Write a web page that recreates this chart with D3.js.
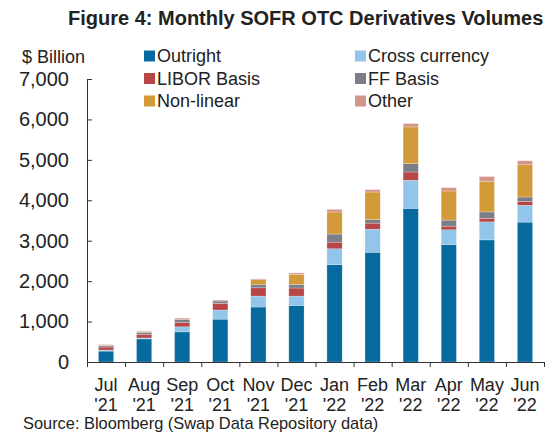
<!DOCTYPE html>
<html>
<head>
<meta charset="utf-8">
<script src="https://cdn.jsdelivr.net/npm/d3@7"></script>
<style>
  body { margin: 0; background: #fff; }
  text { font-family: "Liberation Sans", Arial, sans-serif; fill: #222; }
</style>
</head>
<body>
<div id="vis1"></div>
<script>
// data ($ billion)
const MONTHS = ["Jul", "Aug", "Sep", "Oct", "Nov", "Dec", "Jan", "Feb", "Mar", "Apr", "May", "Jun"];
const YEARS = ["'21", "'21", "'21", "'21", "'21", "'21", "'22", "'22", "'22", "'22", "'22", "'22"];
const OUTRIGHT = [270, 570, 745, 1060, 1360, 1400, 2405, 2715, 3800, 2905, 3020, 3460];
const CROSS_CURRENCY = [25, 25, 125, 225, 270, 230, 395, 570, 695, 365, 445, 415];
const LIBOR_BASIS = [75, 90, 108, 165, 205, 200, 165, 150, 205, 90, 90, 100];
const FF_BASIS = [30, 40, 75, 58, 75, 90, 200, 85, 205, 150, 157, 107];
const NON_LINEAR = [5, 0, 0, 0, 125, 250, 545, 685, 910, 720, 760, 795];
const OTHER = [25, 35, 33, 25, 20, 33, 66, 58, 83, 83, 116, 100];
const Y_TICKS = [0, 1000, 2000, 3000, 4000, 5000, 6000, 7000];

const SERIES = [
  {name: "Outright", values: OUTRIGHT, color: "#076a9e"},
  {name: "Cross currency", values: CROSS_CURRENCY, color: "#92c5ea"},
  {name: "LIBOR Basis", values: LIBOR_BASIS, color: "#b84646"},
  {name: "FF Basis", values: FF_BASIS, color: "#7b7e88"},
  {name: "Non-linear", values: NON_LINEAR, color: "#d39a3a"},
  {name: "Other", values: OTHER, color: "#d4958b"}
];

// frame
const FRAME_HEIGHT = 436;
const FRAME_WIDTH = 552;
const MARGINS = {left: 87, right: 8, top: 79, bottom: 74};

const VIS_HEIGHT = FRAME_HEIGHT - MARGINS.top - MARGINS.bottom;
const VIS_WIDTH = FRAME_WIDTH - MARGINS.left - MARGINS.right;

const FRAME1 = d3.select("#vis1")
                  .append("svg")
                    .attr("height", FRAME_HEIGHT)
                    .attr("width", FRAME_WIDTH);

// build rows for the stack
const rows = MONTHS.map((m, i) => {
  let row = {month: m + " " + YEARS[i]};
  SERIES.forEach((s) => { row[s.name] = s.values[i]; });
  return row;
});
const stacked = d3.stack().keys(SERIES.map((s) => s.name))(rows);

// scales
const X_SCALE = d3.scaleBand()
                  .domain(rows.map((d) => d.month))
                  .range([0, VIS_WIDTH])
                  .paddingInner(0.6)
                  .paddingOuter(0.3);

const Y_SCALE = d3.scaleLinear()
                  .domain([0, 7000])
                  .range([VIS_HEIGHT, 0]);

const plot = FRAME1.append("g")
                   .attr("transform", "translate(" + MARGINS.left + "," + MARGINS.top + ")");

// bars
plot.append("g")
    .selectAll("g")
    .data(stacked)
    .enter()
    .append("g")
      .attr("fill", (d, i) => SERIES[i].color)
    .selectAll("rect")
    .data((d) => d)
    .enter()
    .append("rect")
      .attr("x", (d) => X_SCALE(d.data.month))
      .attr("y", (d) => Y_SCALE(d[1]))
      .attr("height", (d) => Y_SCALE(d[0]) - Y_SCALE(d[1]))
      .attr("width", X_SCALE.bandwidth())
      .attr("stroke", "rgba(255,255,255,0.5)")
      .attr("stroke-width", 0.5);

// y axis, ticks pointing inward
const yAxis = plot.append("g")
    .call(d3.axisLeft(Y_SCALE).tickValues(Y_TICKS).tickSize(-5).tickSizeOuter(0)
            .tickPadding(18).tickFormat(d3.format(",")));
yAxis.selectAll("text").attr("font-size", "20px");
yAxis.selectAll("line, path").attr("stroke", "#333");

// x axis, ticks at the category boundaries
const X_EDGES = d3.scaleLinear().domain([0, MONTHS.length]).range([0, VIS_WIDTH]);
const xAxis = plot.append("g")
    .attr("transform", "translate(0," + VIS_HEIGHT + ")")
    .call(d3.axisBottom(X_EDGES).ticks(MONTHS.length).tickSize(5).tickSizeOuter(0).tickFormat(""));
xAxis.selectAll("line, path").attr("stroke", "#333");

// two line month labels
const labels = plot.append("g")
    .selectAll("text")
    .data(rows)
    .enter()
    .append("text")
      .attr("text-anchor", "middle")
      .attr("font-size", "18px")
      .attr("transform", (d) => "translate(" + (X_SCALE(d.month) + X_SCALE.bandwidth() / 2) + "," + (VIS_HEIGHT + 29) + ")");
labels.append("tspan").attr("x", 0).attr("y", 0).text((d, i) => MONTHS[i]);
labels.append("tspan").attr("x", 0).attr("y", 20).text((d, i) => YEARS[i]);

// title, unit, source
FRAME1.append("text")
      .attr("x", 68).attr("y", 25)
      .attr("font-size", "20px").attr("font-weight", "bold")
      .text("Figure 4: Monthly SOFR OTC Derivatives Volumes");

FRAME1.append("text")
      .attr("x", 22).attr("y", 63)
      .attr("font-size", "18px")
      .text("$ Billion");

FRAME1.append("text")
      .attr("x", 23).attr("y", 429)
      .attr("font-size", "16.4px")
      .text("Source: Bloomberg (Swap Data Repository data)");

// legend in two columns
const legend = FRAME1.append("g")
    .selectAll("g")
    .data(SERIES)
    .enter()
    .append("g")
      .attr("transform", (d, i) => "translate(" + (i % 2 === 0 ? 144 : 355) + "," + (56 + Math.floor(i / 2) * 22.5) + ")");
legend.append("rect")
      .attr("x", 0).attr("y", -5.5)
      .attr("width", 11).attr("height", 11)
      .attr("fill", (d) => d.color);
legend.append("text")
      .attr("x", 13).attr("y", 0).attr("dy", "0.35em")
      .attr("font-size", "18px")
      .text((d) => d.name);
</script>
</body>
</html>
